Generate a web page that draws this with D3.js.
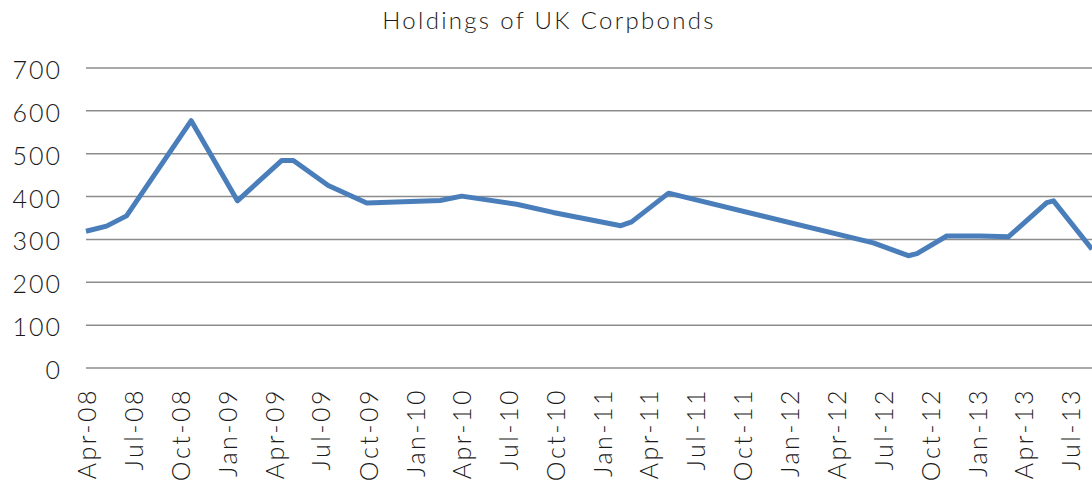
<!DOCTYPE html>
<html>
<head>
<meta charset="utf-8">
<script src="https://cdn.jsdelivr.net/npm/d3@7"></script>
<style>
  body { margin: 0; background: #fff; }
  svg { display: block; font-family: Lato, "Open Sans", sans-serif; font-weight: 300; }
</style>
</head>
<body>
<div id="chart"></div>
<script>
const dates = [
  "2008-03-31", "2008-05-10", "2008-06-18", "2008-10-22", "2009-01-20",
  "2009-04-16", "2009-05-09", "2009-07-16", "2009-09-29", "2010-02-19",
  "2010-04-02", "2010-07-18", "2010-09-27", "2011-02-06", "2011-02-27",
  "2011-05-10", "2012-06-12", "2012-08-19", "2012-09-05", "2012-11-02",
  "2013-01-06", "2013-03-02", "2013-05-16", "2013-05-29", "2013-08-12"
];
const holdings = [
  319, 331, 355, 577, 390,
  484, 484, 426, 385, 391,
  401, 382, 363, 332, 341,
  408, 292, 262, 267, 308,
  308, 306, 386, 390, 277
];
const xTickLabels = [
  "Apr-08", "Jul-08", "Oct-08", "Jan-09", "Apr-09", "Jul-09", "Oct-09",
  "Jan-10", "Apr-10", "Jul-10", "Oct-10", "Jan-11", "Apr-11", "Jul-11",
  "Oct-11", "Jan-12", "Apr-12", "Jul-12", "Oct-12", "Jan-13", "Apr-13", "Jul-13"
];
const yTicks = [0, 100, 200, 300, 400, 500, 600, 700];
const title = "Holdings of UK Corpbonds";

const width = 1092, height = 480;
const margin = { top: 68, right: 0, bottom: 112, left: 86 };

const parseDate = d3.timeParse("%Y-%m-%d");
const parseTick = d3.timeParse("%b-%y");
const data = dates.map((d, i) => ({ date: parseDate(d), value: holdings[i] }));

const svg = d3.select("#chart")
  .append("svg")
  .attr("width", width)
  .attr("height", height);

const x = d3.scaleTime()
  .domain(d3.extent(data, d => d.date))
  .range([margin.left, width - margin.right]);

const y = d3.scaleLinear()
  .domain([0, 700])
  .range([height - margin.bottom, margin.top]);

// gridlines
svg.append("g")
  .selectAll("line")
  .data(yTicks)
  .join("line")
  .attr("x1", margin.left)
  .attr("x2", width)
  .attr("y1", d => y(d))
  .attr("y2", d => y(d))
  .attr("stroke", "#8c8c8c")
  .attr("stroke-width", 1.5);

// y axis labels
svg.append("g")
  .selectAll("text")
  .data(yTicks)
  .join("text")
  .attr("x", 62)
  .attr("y", d => y(d) + 11)
  .attr("text-anchor", "end")
  .attr("font-size", 25)
  .attr("letter-spacing", 2)
  .attr("fill", "#1a1a1a")
  .text(d => d);

// x axis labels, rotated
svg.append("g")
  .selectAll("text")
  .data(xTickLabels)
  .join("text")
  .attr("transform", d => "translate(" + (x(parseTick(d)) + 1) + "," + (y(0) + 20) + ") rotate(-90)")
  .attr("dy", "0.35em")
  .attr("text-anchor", "end")
  .attr("font-size", 25)
  .attr("letter-spacing", 2.5)
  .attr("fill", "#1a1a1a")
  .text(d => d);

// the line
const line = d3.line()
  .x(d => x(d.date))
  .y(d => y(d.value));

svg.append("path")
  .datum(data)
  .attr("fill", "none")
  .attr("stroke", "#4a7ebb")
  .attr("stroke-width", 5)
  .attr("stroke-linejoin", "round")
  .attr("d", line);

// title
svg.append("text")
  .attr("x", 549)
  .attr("y", 29)
  .attr("text-anchor", "middle")
  .attr("font-size", 24)
  .attr("letter-spacing", 2.3)
  .attr("fill", "#1a1a1a")
  .text(title);
</script>
</body>
</html>
